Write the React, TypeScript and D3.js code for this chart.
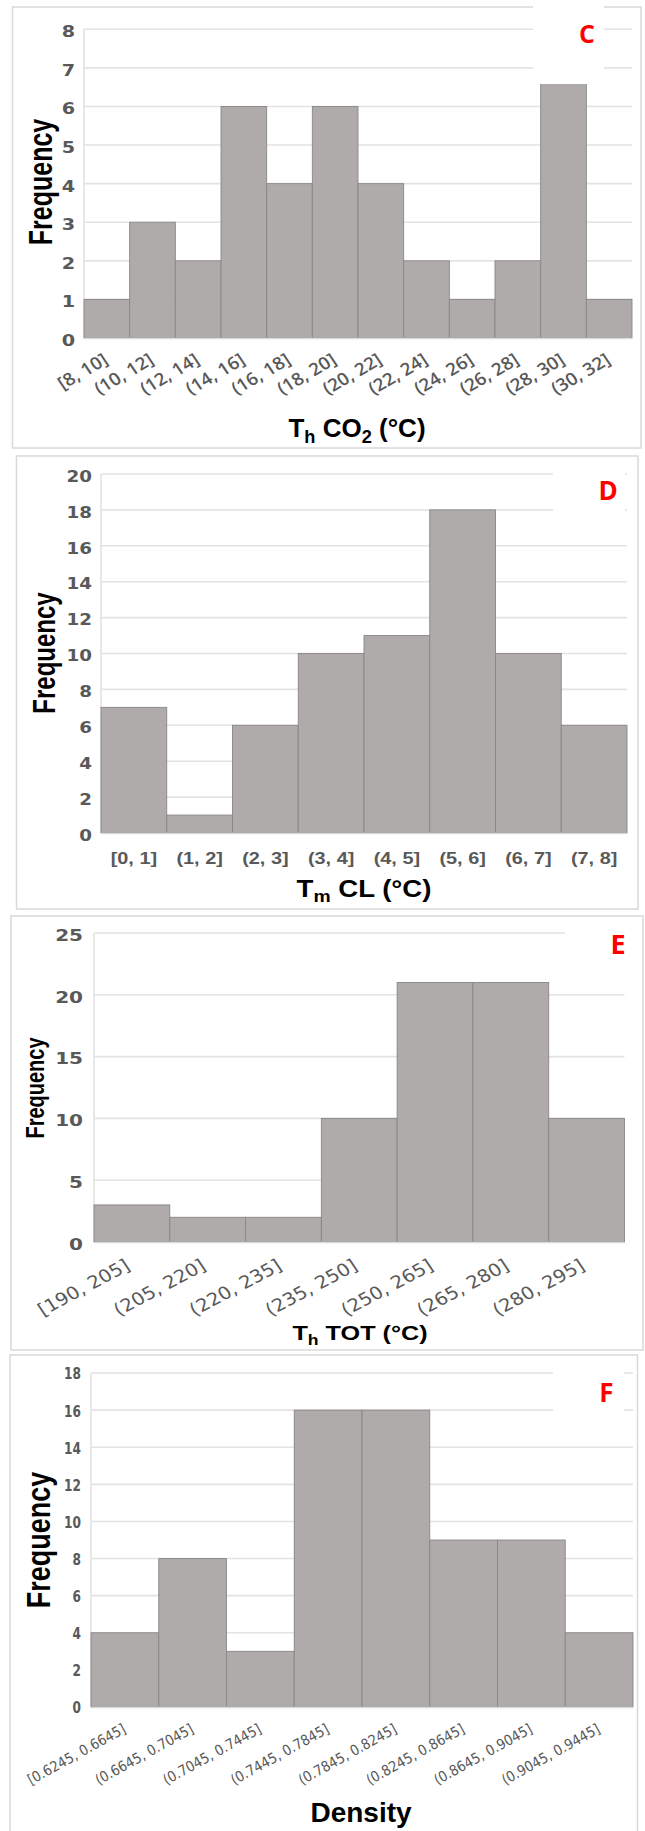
import React from "react";
import * as d3 from "d3";

// ---------- DATA ----------
const categoriesC = ["[8, 10]", "(10, 12]", "(12, 14]", "(14, 16]", "(16, 18]", "(18, 20]", "(20, 22]", "(22, 24]", "(24, 26]", "(26, 28]", "(28, 30]", "(30, 32]"];
const valuesC = [1, 3, 2, 6, 4, 6, 4, 2, 1, 2, 7, 1];
const ticksC = [0, 1, 2, 3, 4, 5, 6, 7, 8];

const categoriesD = ["[0, 1]", "(1, 2]", "(2, 3]", "(3, 4]", "(4, 5]", "(5, 6]", "(6, 7]", "(7, 8]"];
const valuesD = [7, 1, 6, 10, 11, 18, 10, 6];
const ticksD = [0, 2, 4, 6, 8, 10, 12, 14, 16, 18, 20];

const categoriesE = ["[190, 205]", "(205, 220]", "(220, 235]", "(235, 250]", "(250, 265]", "(265, 280]", "(280, 295]"];
const valuesE = [3, 2, 2, 10, 21, 21, 10];
const ticksE = [0, 5, 10, 15, 20, 25];

const categoriesF = ["[0.6245, 0.6645]", "(0.6645, 0.7045]", "(0.7045, 0.7445]", "(0.7445, 0.7845]", "(0.7845, 0.8245]", "(0.8245, 0.8645]", "(0.8645, 0.9045]", "(0.9045, 0.9445]"];
const valuesF = [4, 8, 3, 16, 16, 9, 9, 4];
const ticksF = [0, 2, 4, 6, 8, 10, 12, 14, 16, 18];

const yTitle = "Frequency";
const titleC = [{ t: "T" }, { t: "h", sub: true }, { t: " CO" }, { t: "2", sub: true }, { t: " (°C)" }];
const titleD = [{ t: "T" }, { t: "m", sub: true }, { t: " CL (°C)" }];
const titleE = [{ t: "T" }, { t: "h", sub: true }, { t: " TOT (°C)" }];
const titleF = [{ t: "Density" }];

// ---------- STYLE ----------
const ARIAL = "'Liberation Sans', Arial, sans-serif";
const OPEN = "'Open Sans', 'Liberation Sans', sans-serif";
const DEJA = "'DejaVu Sans', sans-serif";
const NARROW = "'Liberation Sans Narrow', 'DejaVu Sans Condensed', 'Liberation Sans', sans-serif";
const TICK = "#595959";
const BAR = "#AFABAB";
const BAR_STROKE = "#8A8686";
const GRID = "#E3E3E3";
const FRAME = "#D9D9D9";

type Part = { t: string; sub?: boolean };

type Cfg = {
  categories: string[];
  values: number[];
  ticks: number[];
  yMax: number;
  frame: [number, number, number, number];
  x0: number; x1: number; yBase: number; yTop: number;
  tickFont: string; tickSize: number; tickWeight: number; tickRight: number; tickSx: number; tickDy: number;
  xFont: string; xSize: number; xWeight: number; xAngle: number; xDx: number; xDy: number; xSx: number;
  box: [number, number, number, number];
  letter: string; letterX: number; letterY: number; letterSize: number;
  yTitleX: number; yTitleY: number; yTitleSize: number; yTitleSx: number;
  title: Part[]; titleX: number; titleY: number; titleSize: number; titleSx: number;
};

function Title({ parts, x, y, size, sx }: { parts: Part[]; x: number; y: number; size: number; sx: number }) {
  const shift = size * 0.22;
  const spans: any[] = [];
  let offset = 0;
  parts.forEach((p, i) => {
    if (p.sub) {
      spans.push(<tspan key={i} fontSize={size * 0.7} dy={shift - offset}>{p.t}</tspan>);
      offset = shift;
    } else {
      spans.push(<tspan key={i} dy={-offset}>{p.t}</tspan>);
      offset = 0;
    }
  });
  return (
    <text transform={`translate(${x},${y}) scale(${sx},1)`} textAnchor="middle" fontFamily={ARIAL} fontWeight={700} fontSize={size} fill="#000">
      {spans}
    </text>
  );
}

function Histogram({ cfg }: { cfg: Cfg }) {
  const x = d3.scaleBand<string>().domain(cfg.categories).range([cfg.x0, cfg.x1]).padding(0);
  const y = d3.scaleLinear().domain([0, cfg.yMax]).range([cfg.yBase, cfg.yTop]);
  const bw = x.bandwidth();
  const [fx0, fy0, fx1, fy1] = cfg.frame;
  const [bx0, by0, bx1, by1] = cfg.box;
  return (
    <g>
      <rect x={fx0} y={fy0} width={fx1 - fx0} height={fy1 - fy0} fill="#fff" stroke={FRAME} strokeWidth={1.5} />
      {cfg.ticks.filter((t) => t > 0).map((t) => (
        <line key={t} x1={cfg.x0} x2={cfg.x1} y1={y(t)} y2={y(t)} stroke={GRID} strokeWidth={1.6} />
      ))}
      <line x1={cfg.x0} x2={cfg.x0} y1={y(cfg.yMax)} y2={cfg.yBase} stroke={GRID} strokeWidth={1.6} />
      {cfg.values.map((v, i) => (
        <rect key={i} x={x(cfg.categories[i])} y={y(v)} width={bw} height={cfg.yBase - y(v)} fill={BAR} stroke={BAR_STROKE} strokeWidth={0.9} />
      ))}
      <line x1={cfg.x0} x2={cfg.x1} y1={cfg.yBase + 0.5} y2={cfg.yBase + 0.5} stroke={FRAME} strokeWidth={1.5} />
      <rect x={bx0} y={by0} width={bx1 - bx0} height={by1 - by0} fill="#fff" />
      <text x={cfg.letterX} y={cfg.letterY} textAnchor="middle" fontFamily={OPEN} fontWeight={700} fontSize={cfg.letterSize} fill="#FF0000">{cfg.letter}</text>
      {cfg.ticks.map((t) => (
        <text key={t} transform={`translate(${cfg.tickRight},${y(t) + cfg.tickDy}) scale(${cfg.tickSx},1)`} dy="0.36em" textAnchor="end" fontFamily={cfg.tickFont} fontWeight={cfg.tickWeight} fontSize={cfg.tickSize} fill={TICK}>{t}</text>
      ))}
      {cfg.categories.map((c) => {
        const cx = (x(c) as number) + bw / 2;
        if (cfg.xAngle === 0) {
          return (
            <text key={c} transform={`translate(${cx},${cfg.yBase + cfg.xDy}) scale(${cfg.xSx},1)`} textAnchor="middle" fontFamily={cfg.xFont} fontWeight={cfg.xWeight} fontSize={cfg.xSize} fill={TICK}>{c}</text>
          );
        }
        return (
          <text key={c} transform={`translate(${cx + cfg.xDx},${cfg.yBase + cfg.xDy}) scale(${cfg.xSx},1) rotate(${-cfg.xAngle})`} textAnchor="end" fontFamily={cfg.xFont} fontWeight={cfg.xWeight} fontSize={cfg.xSize} fill={TICK}>{c}</text>
        );
      })}
      <text transform={`translate(${cfg.yTitleX},${cfg.yTitleY}) scale(${cfg.yTitleSx},1) rotate(-90)`} dy="0.36em" textAnchor="middle" fontFamily={ARIAL} fontWeight={700} fontSize={cfg.yTitleSize} fill="#000">{yTitle}</text>
      <Title parts={cfg.title} x={cfg.titleX} y={cfg.titleY} size={cfg.titleSize} sx={cfg.titleSx} />
    </g>
  );
}

const cfgC: Cfg = {
  categories: categoriesC, values: valuesC, ticks: ticksC, yMax: 8,
  frame: [12.5, 7, 641, 448], x0: 84, x1: 632, yBase: 338, yTop: 29.3,
  tickFont: DEJA, tickSize: 15, tickWeight: 700, tickRight: 75, tickSx: 1.28, tickDy: 2.5,
  xFont: OPEN, xSize: 17.5, xWeight: 600, xAngle: 32, xDx: 2.5, xDy: 25, xSx: 1.08,
  box: [533, 0, 604, 84], letter: "C", letterX: 587, letterY: 43, letterSize: 25,
  yTitleX: 40, yTitleY: 182, yTitleSize: 25, yTitleSx: 1.3,
  title: titleC, titleX: 357, titleY: 437, titleSize: 26, titleSx: 1,
};

const cfgD: Cfg = {
  categories: categoriesD, values: valuesD, ticks: ticksD, yMax: 20,
  frame: [16.5, 456, 638, 909], x0: 101, x1: 627, yBase: 833, yTop: 474,
  tickFont: DEJA, tickSize: 15, tickWeight: 700, tickRight: 92, tickSx: 1.22, tickDy: 2.3,
  xFont: ARIAL, xSize: 17, xWeight: 700, xAngle: 0, xDx: 0, xDy: 31, xSx: 1.17,
  box: [553, 458, 625, 512], letter: "D", letterX: 608, letterY: 500, letterSize: 26,
  yTitleX: 44, yTitleY: 653, yTitleSize: 24, yTitleSx: 1.32,
  title: titleD, titleX: 364, titleY: 897, titleSize: 23, titleSx: 1.2,
};

const cfgE: Cfg = {
  categories: categoriesE, values: valuesE, ticks: ticksE, yMax: 25,
  frame: [11, 916, 643, 1350], x0: 94, x1: 624.5, yBase: 1242, yTop: 933,
  tickFont: DEJA, tickSize: 16, tickWeight: 700, tickRight: 83, tickSx: 1.25, tickDy: 2,
  xFont: DEJA, xSize: 17.6, xWeight: 400, xAngle: 31, xDx: -0.5, xDy: 27, xSx: 1.12,
  box: [565, 917.5, 632, 975], letter: "E", letterX: 618, letterY: 954, letterSize: 27,
  yTitleX: 35, yTitleY: 1088, yTitleSize: 20, yTitleSx: 1.3,
  title: titleE, titleX: 360, titleY: 1340, titleSize: 21, titleSx: 1.2,
};

const cfgF: Cfg = {
  categories: categoriesF, values: valuesF, ticks: ticksF, yMax: 18,
  frame: [10, 1355, 637.5, 1845], x0: 91, x1: 633, yBase: 1707, yTop: 1373,
  tickFont: NARROW, tickSize: 15, tickWeight: 700, tickRight: 81, tickSx: 0.9, tickDy: 1,
  xFont: NARROW, xSize: 14.5, xWeight: 400, xAngle: 29, xDx: 2, xDy: 25, xSx: 1,
  box: [553, 1356.5, 624, 1420], letter: "F", letterX: 606.5, letterY: 1402, letterSize: 26,
  yTitleX: 38, yTitleY: 1540, yTitleSize: 27, yTitleSx: 1.2,
  title: titleF, titleX: 361, titleY: 1822, titleSize: 28, titleSx: 1,
};

export default function App() {
  return (
    <svg width={645} height={1831} style={{ position: "absolute", left: 0, top: 0, background: "#fff" }}>
      <rect x={0} y={0} width={645} height={1831} fill="#fff" />
      <Histogram cfg={cfgC} />
      <Histogram cfg={cfgD} />
      <Histogram cfg={cfgE} />
      <Histogram cfg={cfgF} />
    </svg>
  );
}
